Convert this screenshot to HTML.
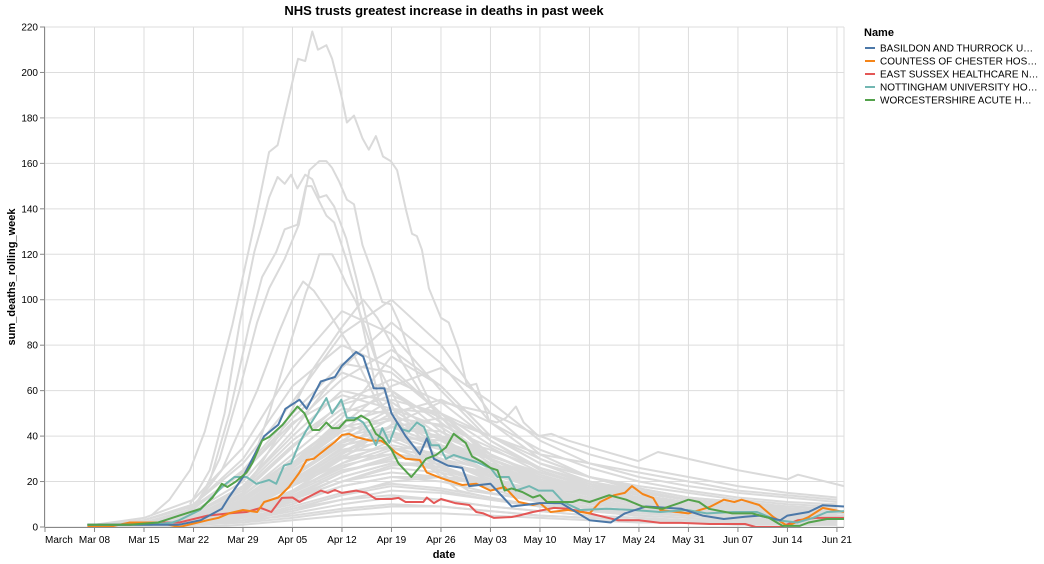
<!DOCTYPE html>
<html><head><meta charset="utf-8"><style>
html,body{margin:0;padding:0;background:#fff;}
svg{display:block;font-family:"Liberation Sans",Arial,sans-serif;}
</style></head><body>
<svg id="chart" width="1044" height="564" viewBox="0 0 1044 564" xmlns="http://www.w3.org/2000/svg">
<text x="444" y="15" text-anchor="middle" font-size="13" font-weight="bold" fill="#000">NHS trusts greatest increase in deaths in past week</text>
<g id="grid"></g>
<g id="greys"></g>
<g id="colored"></g>
<g id="axes"></g>
<text transform="translate(15,277) rotate(-90)" text-anchor="middle" font-size="11" font-weight="bold" fill="#000">sum_deaths_rolling_week</text>
<text x="444" y="558" text-anchor="middle" font-size="11" font-weight="bold" fill="#000">date</text>
<g id="legend">
<text x="864" y="36" font-size="11" font-weight="bold" fill="#000">Name</text>
</g>
</svg>
<script>
// x: days since Mar 1; y: deaths
const xTickDays = [0,7,14,21,28,35,42,49,56,63,70,77,84,91,98,105,112];
const xTickLabels = ["March","Mar 08","Mar 15","Mar 22","Mar 29","Apr 05","Apr 12","Apr 19","Apr 26","May 03","May 10","May 17","May 24","May 31","Jun 07","Jun 14","Jun 21"];
const yTicks = [0,20,40,60,80,100,120,140,160,180,200,220];
const seriesNames = ["BASILDON AND THURROCK U…","COUNTESS OF CHESTER HOS…","EAST SUSSEX HEALTHCARE N…","NOTTINGHAM UNIVERSITY HO…","WORCESTERSHIRE ACUTE H…"];
const weekDays = [7,14,21,28,35,42,49,56,63,70,77,84,91,98,105,112];
const bulkGrey = [
[0,1,4,12,30,45,40,30,20,14,10,8,6,5,4,3],
[0,2,6,18,40,60,55,40,25,18,14,10,8,6,5,4],
[0,1,3,10,25,38,42,35,24,16,12,9,7,6,5,4],
[0,0,2,6,15,28,35,30,22,15,11,8,6,4,3,2],
[0,2,8,25,50,72,68,50,32,22,16,12,9,8,6,5],
[1,3,10,30,62,80,70,50,30,20,15,11,8,7,6,5],
[0,1,5,15,35,55,65,55,38,25,18,14,10,8,7,6],
[0,1,2,8,20,35,48,45,35,24,18,13,10,8,6,5],
[0,0,1,4,12,22,28,26,20,15,11,8,6,5,4,3],
[0,1,3,9,20,30,32,26,18,12,9,7,5,4,3,3],
[0,2,7,20,45,65,78,62,40,28,20,15,12,10,8,7],
[0,1,4,14,32,50,58,48,32,22,17,13,10,8,6,5],
[1,4,12,35,70,95,85,60,38,26,19,14,11,9,7,6],
[0,3,10,28,55,85,100,80,50,32,22,16,12,10,8,7],
[0,1,3,8,18,28,38,40,34,26,20,16,12,10,8,7],
[0,1,2,5,10,18,22,20,15,11,8,6,5,4,3,3],
[0,0,1,3,8,14,18,16,12,9,7,5,4,3,2,2],
[0,1,4,10,22,36,40,34,24,17,13,10,8,6,5,4],
[0,2,6,16,36,52,50,38,26,18,14,11,9,7,6,5],
[0,1,3,10,24,40,52,50,40,30,22,17,13,11,9,8],
[0,1,2,6,14,24,30,32,28,22,18,15,12,10,8,7],
[0,0,1,2,6,10,13,12,9,7,5,4,3,3,2,2],
[0,1,2,4,9,15,19,17,13,9,7,5,4,3,3,2],
[0,1,5,14,30,46,52,44,30,20,15,12,10,8,7,6],
[0,1,3,7,16,26,34,36,30,22,16,12,9,7,6,5],
[0,2,8,24,48,68,60,42,28,20,15,12,9,7,6,5],
[0,1,4,12,26,40,44,36,26,19,15,12,10,8,7,6],
[0,0,1,3,7,12,16,15,12,9,7,6,5,4,3,3],
[0,1,2,5,12,20,26,24,18,13,10,8,6,5,4,4],
[0,1,3,11,28,45,62,70,55,38,28,22,18,15,13,11],
[0,0,2,6,16,30,45,55,50,40,32,26,22,18,15,13],
[0,1,3,8,18,32,44,48,40,32,28,24,20,16,14,12],
[0,1,4,12,28,48,75,62,40,28,22,18,15,12,10,9],
[0,2,6,18,42,70,90,72,46,30,22,17,13,11,9,8],
[0,1,3,9,22,38,50,56,46,34,26,20,16,13,11,10],
[0,0,1,3,8,14,20,22,20,16,13,10,8,7,6,5],
[0,1,2,6,13,22,28,28,24,19,15,12,10,8,7,6],
[0,1,3,8,18,30,36,32,24,18,14,11,9,7,6,5],
[1,3,9,24,46,58,52,38,26,19,15,12,10,8,7,6],
[0,1,2,4,8,12,14,12,9,7,5,4,3,2,2,2],
[0,0,1,2,4,7,9,9,7,5,4,3,2,2,1,1],
[0,1,2,3,5,8,10,9,7,5,4,3,3,2,2,1],
[0,0,0,1,3,5,6,6,5,4,3,2,2,1,1,1],
[0,1,3,6,12,20,24,22,18,14,11,9,7,6,5,4],
[0,1,2,5,11,18,22,22,20,17,15,13,11,9,8,7],
[0,1,3,9,21,34,38,30,21,15,12,9,7,6,5,4],
[0,1,4,11,26,42,47,39,27,19,14,11,9,7,6,5],
[0,0,2,7,18,31,40,38,30,22,16,12,10,8,6,5],
[0,1,3,8,19,33,35,27,19,14,11,9,7,6,5,4],
[0,2,5,13,28,44,48,36,24,17,13,10,8,7,6,5],
[0,1,2,7,16,27,32,30,25,20,16,13,11,9,8,7],
[0,1,4,12,27,43,56,50,36,26,19,15,12,10,8,7],
[0,0,1,5,13,24,31,29,23,17,13,10,8,7,6,5],
[0,1,3,9,20,33,44,42,32,23,17,13,10,8,7,6],
[0,1,2,6,15,25,29,25,19,14,11,9,7,6,5,4],
[0,1,4,10,23,37,44,40,31,24,19,15,12,10,9,8],
[0,2,6,17,38,54,60,46,30,21,16,12,10,8,7,6],
[0,0,2,5,12,20,27,28,24,19,15,12,10,8,7,6],
[0,1,3,10,22,36,41,36,27,20,15,12,9,8,6,5]
];
const greyTall1 = [[15,5],[17.6,12],[20.5,25],[22.6,42],[26.5,89],[29.6,133],[31.7,165],[32.9,168],[35.3,200],[35.8,206],[36.8,205],[37.8,218],[38.6,210],[39.8,212],[40.6,206],[41.9,190],[42.7,178],[43.7,181],[44.9,171],[45.8,166],[46.8,172],[47.8,163],[48.9,161],[49.8,157],[51.1,139],[51.9,129],[52.6,128],[53.3,122],[54.3,105],[56,92],[57.1,90],[58.5,78],[59.7,62],[61,63],[62.8,47],[63.9,46],[65.2,48],[66.6,53],[67.7,46],[69.8,40],[71.6,41],[74,38],[78.3,34],[83.9,29],[86.7,33],[92.4,29],[98,25],[105,21],[106.5,23],[113,18]];
const greyTall2 = [[19,4],[21.9,12],[24.7,30],[27.5,60],[30,90],[31.7,105],[33.9,118],[35.9,133],[37.4,157],[38.8,161],[39.8,161],[40.6,158],[41.6,152],[42.7,144],[43.7,142],[44.9,124],[46.3,112],[47.7,99],[48.9,98],[50.1,90],[52.9,65],[57.1,38],[61.4,25],[67,16],[78.3,10],[92.4,7],[113,5]];
const greyTall3 = [[20.5,10],[23.3,25],[25.4,50],[27.5,89],[29.6,121],[30.7,133],[31.7,145],[32.9,154],[33.9,151],[34.8,155],[35.7,149],[36.8,155],[37.8,153],[38.8,145],[39.8,146],[40.9,141],[42.6,127],[44,110],[45.4,92],[48,60],[52.9,30],[58.5,16],[67,10],[92.4,6],[113,4]];
const greyTall4 = [[20.5,6],[23.3,20],[26.1,50],[28.9,89],[30.7,110],[32.7,121],[33.9,131],[35.7,133],[36.9,150],[37.7,150],[39.8,137],[40.9,134],[42.6,118],[44,103],[44.4,96],[47.2,56],[52.9,30],[59.9,16],[78.3,8],[113,4]];
const greyTall5 = [[24.7,8],[28.9,25],[31.7,50],[34.6,80],[36.9,103],[37.8,110],[38.8,120],[40.6,120],[41.6,114],[42.6,107],[44,99],[47.2,70],[51.5,45],[57.1,25],[67,14],[85,8],[113,5]];
const greyTall6 = [[20,5],[25,25],[30,60],[33,85],[35,100],[36.5,108],[38,104],[40,95],[43,80],[47,55],[52,35],[58,22],[66,14],[80,9],[113,5]];
const greyTall7 = [[22,3],[28,15],[33,40],[38,70],[42,88],[45,100],[47,92],[50,75],[54,55],[60,35],[68,20],[80,12],[113,6]];
const basildon = [[6,1],[19,1],[22,3],[25,8],[26,13],[28,22],[31,40],[33,45],[34,52],[36,56],[37,52],[39,64],[41,66],[42,71],[44,77],[45,75],[46.5,61],[48,61],[49,50],[51,40],[53,32],[54,39],[55,30],[57,27],[59,26],[60,18],[63,19],[66,9],[70,10.5],[73,10.5],[77,3],[80,2],[82,6],[85,9],[90,8],[93,5],[96,3.5],[99,4.5],[101,5],[104,3],[105,5],[108,6.6],[110,9.6],[113,9]];
const countess = [[6,0],[9,0],[12,2],[16,2],[19,0],[23,3],[24.5,4],[26,6],[28,7.5],[30,6.6],[31,11],[33,13],[34.5,17.6],[36,24],[37,29.5],[38,30],[40,35],[41,37.4],[42,40.5],[43,41],[44,39.6],[46,38],[47.5,38],[48.5,36],[49.5,33],[51,30],[53,29.5],[54,24],[56,21.5],[59,18.5],[61,19],[63,16],[65,17.6],[67,11],[69,9.7],[70,10.5],[71.5,6.6],[74,7.5],[77,6],[78.5,11],[80.5,14],[82,15],[83,18],[84.5,14.5],[86,12.8],[87,7.5],[91,6],[94,8.8],[96,12],[97.5,11],[98.5,12],[101,9.7],[103,4.4],[105,0.5],[108,4.4],[110,8.4],[113,6.6]];
const eastSussex = [[6,1],[12,1],[16,2],[19,2],[23,5],[26,6],[28.5,6.6],[30.5,8.4],[32,6.6],[33.5,12.8],[35,13],[36,11],[37,12.8],[39,16],[40,15],[41,16.3],[42,15],[44,16],[45.5,15],[46.8,12.3],[49,12.3],[50,12.8],[51,11],[53.5,11],[54,13],[55,10.5],[56,12.3],[58,10.5],[60,9.7],[61,6.6],[62,6],[63.5,4],[66,4.4],[67,5],[69,6.6],[72,8.4],[74,8],[77,6],[81,3],[84,3],[87,1.8],[90,1.8],[94,1.3],[99,1.3],[100.5,0],[104,0],[106.5,3],[109,4],[113,4]];
const nottingham = [[6,1],[12,1],[15,1],[18,2],[19,3],[21.9,7.5],[25,17.6],[26.8,22],[28.5,22],[29.9,19],[31.7,20.7],[32.7,19],[33.8,27],[34.8,28],[36,37],[37,42.7],[38.5,50],[39.8,56.7],[40.6,50],[41.9,56],[42.7,48],[44,48],[45,46],[46,41],[46.8,36],[47.7,43.5],[48.7,37],[49.8,46],[50.5,43],[51.5,42],[52.6,46],[53.6,44],[54.6,36],[55.7,36],[56.7,30],[57.8,31.7],[59.5,30],[61,28.6],[63,26],[64,22],[65.6,22],[66.6,16],[68.5,18],[69.8,16],[71.8,16],[73.3,11],[75.7,7.5],[79.5,8],[83.2,7.5],[87,6.6],[90.8,7.5],[93.6,6],[97.3,6.6],[100.7,6.6],[103.5,3],[106.4,2],[108.6,4],[110.6,6.6],[113,7]];
const worcestershire = [[6,1],[12,1],[16,2],[17,3],[19,5],[22,8],[23.7,13],[25,19],[25.8,17.6],[27,20],[28.5,24],[29.3,28],[30.7,38],[31.7,39.6],[33.6,45],[35.7,53],[36.7,50],[37.8,42.7],[38.8,42.7],[39.8,46],[40.6,43.5],[41.6,43.5],[42.6,47],[43.7,47],[44.7,49],[45.8,47],[46.8,41],[47.7,39],[49,34],[50,28],[51.8,22],[52.9,26],[53.9,30],[55.3,31.7],[56.7,35],[57.8,41],[59.5,37],[60.4,31],[61.8,28.6],[63,26],[64,25],[65,16],[66,17],[67.5,15.4],[69,13],[70,14],[71,11],[74.6,11],[75.6,12],[77,11],[79.8,14],[82.2,12],[84.5,9],[87.3,8],[89.7,10.5],[91,12],[92.5,11],[93.9,8],[97.2,6],[100,6],[102.4,4],[104.3,0.5],[106.7,0.5],[108,2],[110.6,3.5],[113,3.5]];

const X0=45, X1=844, Y0=527, Y1=27;
const xMax=113, yMax=220;
function xs(d){return X0+(d/xMax)*(X1-X0);}
function ys(v){return Y0-(v/yMax)*(Y0-Y1);}
const NS="http://www.w3.org/2000/svg";
function mk(tag,attrs,parent){const e=document.createElementNS(NS,tag);for(const k in attrs)e.setAttribute(k,attrs[k]);parent.appendChild(e);return e;}

const grid=document.getElementById('grid');
const axes=document.getElementById('axes');
yTicks.forEach(function(t){
  const l=mk('line',{x1:X0,x2:X1,y1:ys(t),y2:ys(t),stroke:'#ddd','stroke-width':1},grid);
  
  
  const tk=mk('line',{x1:X0-5,x2:X0,y1:ys(t),y2:ys(t),stroke:'#888','stroke-width':1},axes);
  
  
  const tx=mk('text',{x:X0-7,y:ys(t)+3.5,'text-anchor':'end','font-size':10,fill:'#000'},axes);
  tx.textContent=t;
  
  
});
xTickDays.forEach(function(d,i){
  const l=mk('line',{x1:xs(d),x2:xs(d),y1:Y1,y2:Y0,stroke:'#ddd','stroke-width':1},grid);
  
  
  const tk=mk('line',{x1:xs(d),x2:xs(d),y1:Y0,y2:Y0+5,stroke:'#888','stroke-width':1},axes);
  
  
  const tx=mk('text',{x:xs(d),y:Y0+16,'text-anchor':i===0?'start':'middle','font-size':10,fill:'#000'},axes);
  tx.textContent=xTickLabels[i];
  
  
});
const rb=mk('line',{x1:X1,x2:X1,y1:Y1,y2:Y0,stroke:'#ddd','stroke-width':1},grid);


const ax1=mk('line',{x1:X0,x2:X1,y1:Y0+0.5,y2:Y0+0.5,stroke:'#888','stroke-width':1},axes);


const ax2=mk('line',{x1:X0-0.5,x2:X0-0.5,y1:Y1,y2:Y0,stroke:'#888','stroke-width':1},axes);



function pathFromPairs(p){return p.map(function(q,i){return (i?'L':'M')+xs(q[0]).toFixed(1)+','+ys(q[1]).toFixed(1);}).join('');}
const greys=document.getElementById('greys');
bulkGrey.forEach(function(vals){
  const pairs=weekDays.map(function(d,i){return [d,vals[i]];});
  const p=mk('path',{d:pathFromPairs(pairs),fill:'none',stroke:'#dadada','stroke-width':2,'stroke-linejoin':'round'},greys);
  
  
});
[greyTall1,greyTall2,greyTall3,greyTall4,greyTall5,greyTall6,greyTall7].forEach(function(s){
  const p=mk('path',{d:pathFromPairs(s),fill:'none',stroke:'#dadada','stroke-width':2,'stroke-linejoin':'round'},greys);
  
  
});
const colors=['#4c78a8','#f58518','#e45756','#72b7b2','#54a24b'];
const colSeries=[basildon,countess,eastSussex,nottingham,worcestershire];
const colored=document.getElementById('colored');
const drawOrder=[2,1,3,0,4];
drawOrder.forEach(function(i){
  const p=mk('path',{d:pathFromPairs(colSeries[i]),fill:'none',stroke:colors[i],'stroke-width':2,'stroke-linejoin':'round'},colored);
  
  
});
const legend=document.getElementById('legend');
seriesNames.forEach(function(n,i){
  const y=48+i*13;
  const sw=mk('line',{x1:865,x2:875,y1:y,y2:y,stroke:colors[i],'stroke-width':2},legend);
  
  
  const t=mk('text',{x:880,y:y+3.5,'font-size':10,fill:'#000'},legend);
  t.textContent=n;
  
  
});
</script>
</body></html>
